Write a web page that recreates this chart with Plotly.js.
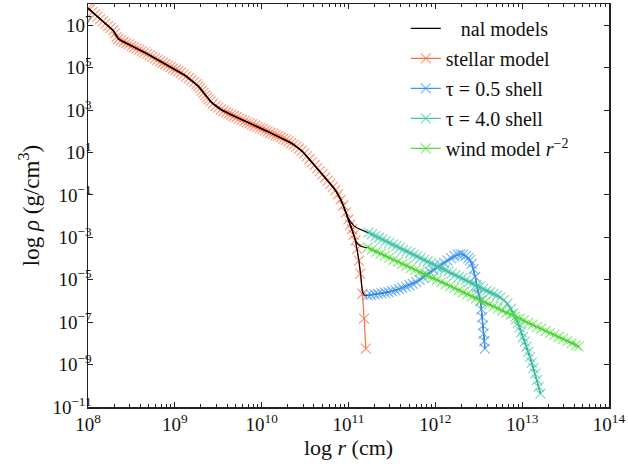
<!DOCTYPE html>
<html>
<head>
<meta charset="utf-8">
<script src="https://cdn.plot.ly/plotly-3.0.1.min.js"></script>
<style>html,body{margin:0;padding:0;background:#fff;}#chart{width:628px;height:464px;}</style>
</head>
<body>
<div id="chart"></div>
<script>
// ---- data (log10 values) ----
const stellarLogR = [8.00,8.02,8.05,8.08,8.11,8.14,8.17,8.20,8.23,8.26,8.29,8.31,8.33,8.35,8.38,8.41,8.44,8.47,8.50,8.53,8.56,8.59,8.62,8.65,8.68,8.71,8.74,8.77,8.80,8.83,8.86,8.89,8.92,8.95,8.98,9.01,9.04,9.07,9.10,9.13,9.16,9.19,9.22,9.25,9.27,9.29,9.31,9.33,9.35,9.37,9.39,9.41,9.44,9.47,9.50,9.53,9.56,9.59,9.62,9.65,9.68,9.71,9.74,9.77,9.80,9.83,9.86,9.89,9.92,9.95,9.98,10.01,10.04,10.07,10.10,10.13,10.16,10.19,10.22,10.25,10.28,10.31,10.34,10.37,10.40,10.43,10.46,10.49,10.52,10.55,10.58,10.61,10.64,10.67,10.70,10.73,10.76,10.79,10.82,10.85,10.88,10.91,10.94,10.97,11.00,11.02,11.04,11.06,11.08,11.10,11.12,11.135,11.16,11.18,11.20];
const stellarLogRho = [7.80,7.74,7.62,7.51,7.40,7.29,7.18,7.07,6.96,6.87,6.76,6.62,6.45,6.35,6.28,6.22,6.16,6.10,6.03,5.97,5.91,5.85,5.78,5.72,5.65,5.58,5.51,5.44,5.37,5.30,5.23,5.16,5.09,5.02,4.96,4.90,4.84,4.76,4.68,4.59,4.50,4.41,4.32,4.22,4.13,4.03,3.92,3.81,3.70,3.60,3.50,3.41,3.30,3.20,3.11,3.03,2.96,2.89,2.83,2.78,2.72,2.66,2.60,2.54,2.48,2.42,2.37,2.32,2.26,2.21,2.15,2.10,2.04,1.99,1.93,1.88,1.82,1.77,1.71,1.65,1.59,1.52,1.45,1.37,1.28,1.18,1.08,0.96,0.82,0.68,0.54,0.40,0.26,0.12,-0.03,-0.18,-0.33,-0.48,-0.62,-0.78,-0.98,-1.22,-1.50,-1.82,-2.15,-2.40,-2.62,-2.88,-3.14,-3.55,-4.10,-4.71,-5.66,-6.83,-8.25];

const shell05LogR = [11.22,11.26,11.30,11.34,11.38,11.42,11.46,11.50,11.54,11.58,11.62,11.66,11.70,11.74,11.78,11.82,11.86,11.90,11.94,11.98,12.02,12.06,12.10,12.14,12.18,12.22,12.26,12.29,12.32,12.35,12.38,12.40,12.42,12.44,12.46,12.48,12.50,12.52,12.53,12.54,12.55,12.555,12.565,12.57];
const shell05LogRho = [-5.74,-5.71,-5.69,-5.67,-5.64,-5.61,-5.58,-5.54,-5.50,-5.44,-5.38,-5.32,-5.26,-5.19,-5.11,-5.01,-4.88,-4.76,-4.64,-4.53,-4.42,-4.31,-4.20,-4.09,-3.98,-3.89,-3.82,-3.80,-3.82,-3.88,-3.98,-4.08,-4.24,-4.50,-4.87,-5.35,-5.70,-6.00,-6.40,-6.76,-7.15,-7.54,-7.90,-8.25];

const shell4LogR = [11.23,11.27,11.31,11.35,11.39,11.43,11.47,11.51,11.55,11.59,11.63,11.67,11.71,11.75,11.79,11.83,11.87,11.91,11.95,11.99,12.03,12.07,12.11,12.15,12.19,12.23,12.27,12.31,12.35,12.39,12.43,12.47,12.51,12.55,12.59,12.63,12.67,12.71,12.75,12.79,12.83,12.87,12.90,12.93,12.95,12.97,12.99,13.01,13.03,13.05,13.07,13.09,13.11,13.13,13.15,13.17,13.19,13.21];
const shell4LogRho = [-2.78,-2.86,-2.94,-3.02,-3.10,-3.18,-3.26,-3.34,-3.42,-3.50,-3.58,-3.66,-3.74,-3.82,-3.90,-3.98,-4.06,-4.14,-4.22,-4.30,-4.38,-4.46,-4.54,-4.62,-4.70,-4.78,-4.86,-4.94,-5.02,-5.10,-5.18,-5.26,-5.34,-5.43,-5.52,-5.60,-5.67,-5.74,-5.83,-5.96,-6.13,-6.37,-6.60,-6.86,-7.05,-7.25,-7.47,-7.70,-7.92,-8.15,-8.40,-8.65,-8.91,-9.17,-9.43,-9.73,-10.05,-10.37];

const windLogR = [11.22,11.27,11.32,11.37,11.42,11.47,11.52,11.57,11.62,11.67,11.72,11.77,11.82,11.87,11.92,11.97,12.02,12.07,12.12,12.17,12.22,12.27,12.32,12.37,12.42,12.47,12.52,12.57,12.62,12.67,12.72,12.77,12.82,12.87,12.92,12.97,13.02,13.07,13.12,13.17,13.22,13.27,13.32,13.37,13.42,13.47,13.52,13.57,13.62,13.65];
const windLogRho = [-3.48,-3.58,-3.67,-3.77,-3.86,-3.96,-4.06,-4.15,-4.25,-4.34,-4.44,-4.53,-4.63,-4.73,-4.82,-4.92,-5.01,-5.11,-5.21,-5.30,-5.40,-5.49,-5.59,-5.68,-5.78,-5.88,-5.97,-6.07,-6.16,-6.26,-6.35,-6.45,-6.55,-6.64,-6.74,-6.83,-6.93,-7.03,-7.12,-7.22,-7.31,-7.41,-7.51,-7.60,-7.70,-7.79,-7.89,-7.99,-8.08,-8.14];

// junctions of the final (core + envelope) models, between the stellar core and each shell
const joinShell4LogR = [11.00,11.03,11.06,11.10,11.15,11.20];
const joinShell4LogRho = [-2.12,-2.30,-2.45,-2.56,-2.64,-2.72];
const joinWindLogR = [11.00,11.02,11.04,11.06,11.08,11.11,11.15,11.19];
const joinWindLogRho = [-2.15,-2.40,-2.62,-2.90,-3.15,-3.33,-3.43,-3.48];
const joinShell05LogR = [11.00,11.02,11.04,11.06,11.08,11.10,11.12,11.14,11.16,11.18];
const joinShell05LogRho = [-2.15,-2.40,-2.62,-2.88,-3.14,-3.55,-4.10,-4.75,-5.55,-5.72];
const coreCut = 10.98;

// tick labels
const xTickExp = [8,9,10,11,12,13,14];
const yTickExp = [-11,-9,-7,-5,-3,-1,1,3,5,7];

const names = ['\u00a0\u00a0\u00a0nal models','stellar model','\u03c4 = 0.5 shell','\u03c4 = 4.0 shell','wind model <i>r</i><sup>\u22122</sup>'];
const colors = {stellar:'#ff6a3d', s05:'#3b95f2', s4:'#3ec9a7', wind:'#4fe036'};

// ---- build ----
const p10 = a => a.map(v => Math.pow(10, v));
const lbl = a => a.map(e => '10<sup>' + (e < 0 ? '\u2212' + (-e) : e) + '</sup>');
const coreR = stellarLogR.filter(v => v <= coreCut);
const coreRho = stellarLogRho.slice(0, coreR.length);

function shellTrace(lr, lrho, name, color, rank) {
  return {x:p10(lr), y:p10(lrho), name:name, mode:'lines+markers', type:'scatter',
    legendrank:rank, legendgroup:name,
    line:{color:color, width:1.2},
    marker:{symbol:'x-thin', size:10, opacity:0.7, color:color, line:{color:color, width:1.1}}};
}
function finalTrace(jr, jrho, sr, srho, show) {
  return {x:p10(coreR.concat(jr, sr)), y:p10(coreRho.concat(jrho, srho)), name:names[0],
    mode:'lines', type:'scatter', showlegend:show, legendrank:1, legendgroup:'final',
    line:{color:'#000', width:1.2}};
}

const data = [
  shellTrace(stellarLogR, stellarLogRho, names[1], colors.stellar, 2),
  finalTrace(joinShell4LogR, joinShell4LogRho, shell4LogR, shell4LogRho, true),
  finalTrace(joinWindLogR, joinWindLogRho, windLogR, windLogRho, false),
  finalTrace(joinShell05LogR, joinShell05LogRho, shell05LogR, shell05LogRho, false),
  shellTrace(shell05LogR, shell05LogRho, names[2], colors.s05, 3),
  shellTrace(shell4LogR, shell4LogRho, names[3], colors.s4, 4),
  shellTrace(windLogR, windLogRho, names[4], colors.wind, 5)
];

const font = 'Liberation Serif, Times New Roman, serif';
const layout = {
  width:628, height:464,
  margin:{l:88, r:19, t:4, b:57, pad:0},
  paper_bgcolor:'#fff', plot_bgcolor:'#fff',
  font:{family:font, size:18, color:'#111'},
  showlegend:true,
  legend:{x:0.61, y:0.988, xanchor:'left', yanchor:'top', bgcolor:'rgba(0,0,0,0)',
    borderwidth:0, font:{family:font, size:20, color:'#111'}, traceorder:'grouped', tracegroupgap:1},
  xaxis:{type:'log', range:[8,14], tickvals:p10(xTickExp), ticktext:lbl(xTickExp), showgrid:false, zeroline:false,
    ticks:'inside', ticklen:5, tickwidth:1, tickcolor:'#222', showline:true, linecolor:'#222', linewidth:1.5, mirror:'ticks',
    minor:{ticks:'inside', ticklen:3, tickwidth:1, tickcolor:'#222', dtick:'D1', showgrid:false},
    tickfont:{family:font, size:19}, title:{text:'log <i>r</i> (cm)', font:{family:font, size:22}, standoff:4}},
  yaxis:{type:'log', range:[-11,8], tickvals:p10(yTickExp), ticktext:lbl(yTickExp), showgrid:false, zeroline:false,
    ticks:'inside', ticklen:5, tickwidth:1, tickcolor:'#222', showline:true, linecolor:'#222', linewidth:1.5, mirror:'ticks',
    ticklabelstandoff:-9,
    tickfont:{family:font, size:19}, title:{text:'log <i>\u03c1</i> (g/cm<sup>3</sup>)', font:{family:font, size:23}, standoff:6}}
};

Plotly.newPlot('chart', data, layout, {staticPlot:true, displayModeBar:false});
</script>
</body>
</html>
